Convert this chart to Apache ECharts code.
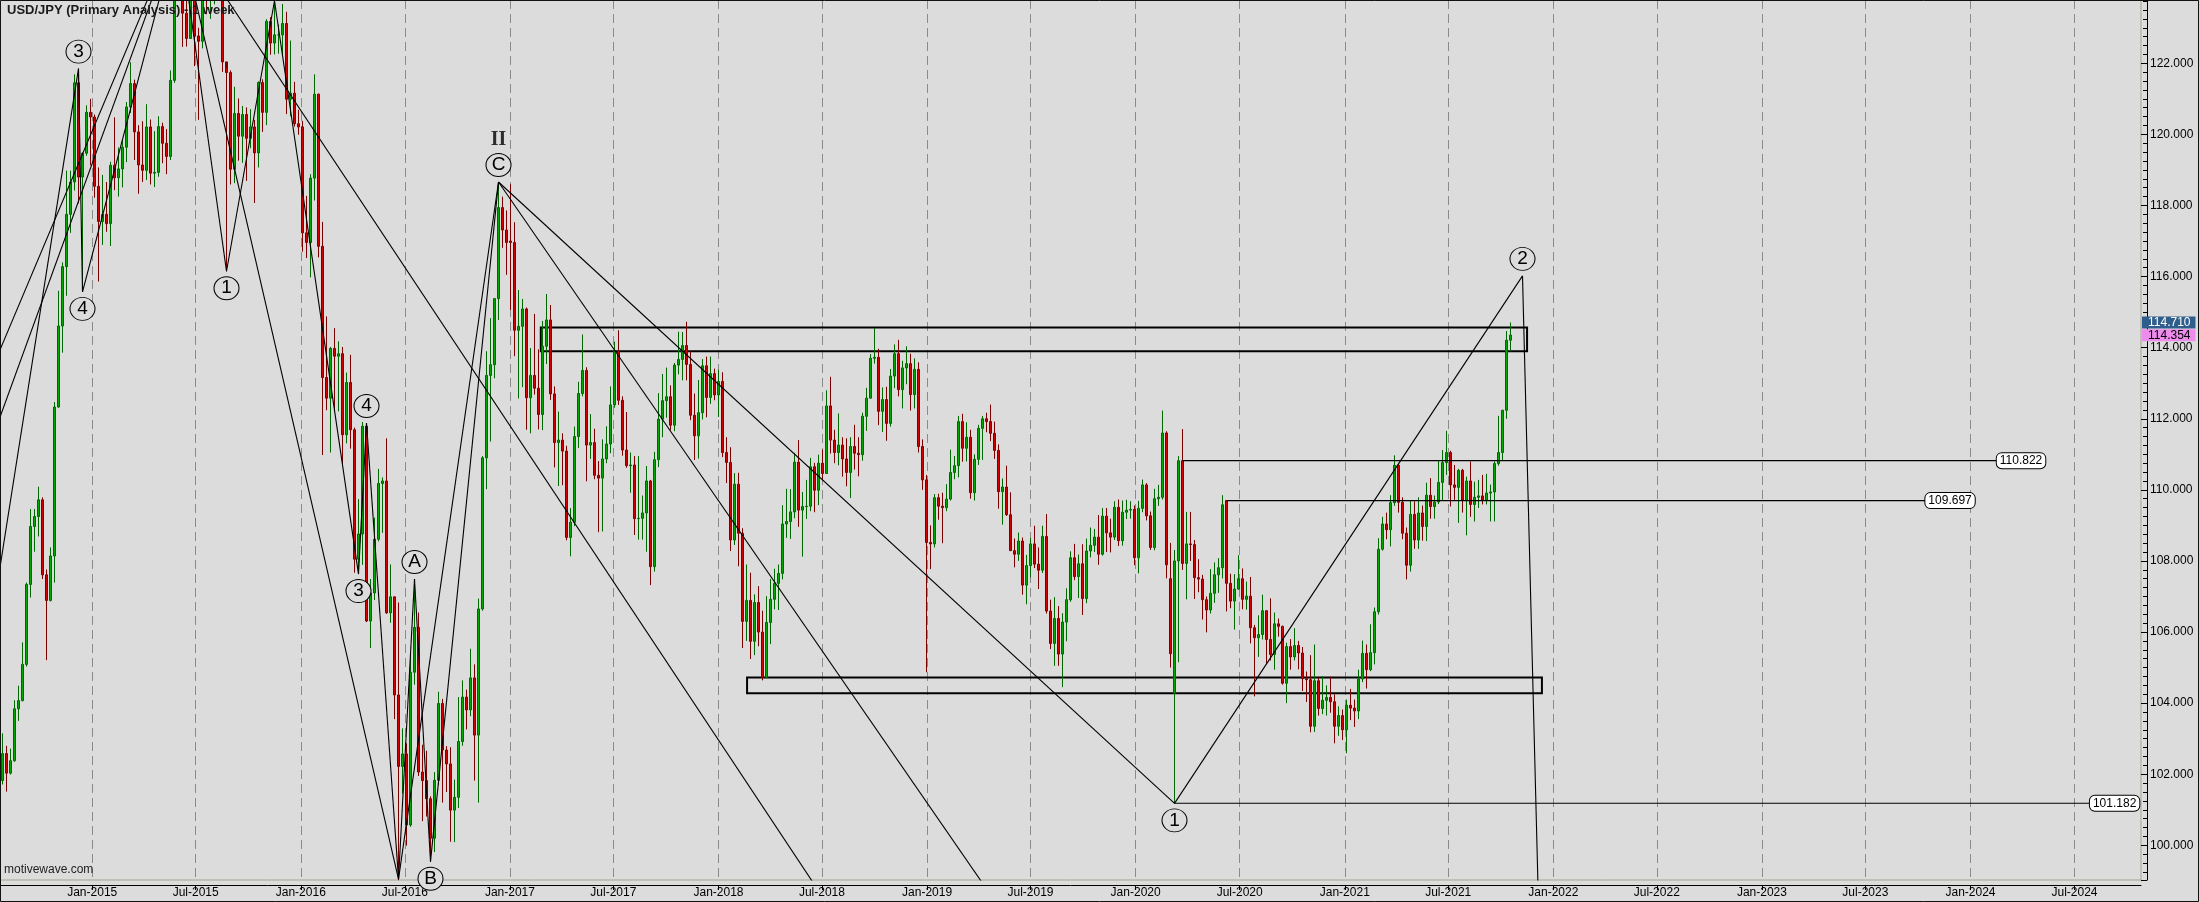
<!DOCTYPE html>
<html><head><meta charset="utf-8">
<script src="https://cdn.jsdelivr.net/npm/echarts/dist/echarts.min.js"></script>
<style>html,body{margin:0;padding:0;background:#dcdcdc}#chart{width:2199px;height:902px}</style>
</head><body><div id="chart"></div>
<script>
// ---------- weekly candles [open, close, low, high] ----------
const start2014 = '2014-07-28';
const weeks2014 = [
[101.82,102.58,101.71,103.15],[102.58,102.03,101.51,102.80],[102.03,102.38,101.99,102.72],[102.38,103.84,102.35,104.08],
[103.84,104.07,103.50,104.49],[104.07,105.09,104.05,105.71],[105.09,107.34,105.03,107.39],[107.34,108.97,106.97,109.46],
[108.97,109.25,108.26,109.46],[109.25,109.72,108.69,110.09],[109.72,107.61,107.49,109.79],[107.61,106.89,105.21,107.76],
[106.89,108.14,106.86,108.38],[108.14,112.33,107.39,112.47],[112.33,114.61,112.31,115.60],[114.61,116.28,113.86,116.40],
[116.28,117.75,115.46,118.98],[117.75,118.66,117.23,118.98],[118.66,121.45,118.42,121.69],[121.45,118.80,118.06,121.85],
[118.80,119.47,115.57,119.49],[119.47,120.62,119.40,120.82],[120.62,120.49,119.13,121.00]];
const start2015 = '2015-01-05';
const weeks2015 = [
[120.49,118.54,118.22,120.56],[118.54,117.55,115.86,119.07],[117.55,117.75,116.89,118.86],[117.75,117.49,117.26,118.66],
[117.49,119.13,116.86,119.23],[119.13,118.78,118.43,120.48],[118.78,119.03,118.25,119.63],[119.03,119.64,118.51,119.86],
[119.64,120.77,119.22,120.91],[120.77,121.43,120.60,122.03],[121.43,120.07,119.28,121.54],[120.07,119.14,118.33,120.26],
[119.14,118.99,118.66,120.37],[118.99,120.21,118.72,120.85],[120.21,118.91,118.59,120.42],[118.91,118.93,118.52,120.09],
[118.93,120.22,118.81,120.51],[120.22,119.75,119.19,120.33],[119.75,119.38,118.88,120.15],[119.38,121.52,119.28,121.80],
[121.52,124.12,121.45,124.46],[124.12,125.60,123.76,125.86],[125.60,123.41,122.46,125.60],[123.41,122.70,122.47,123.91],
[122.70,123.89,122.69,124.46],[123.89,122.77,121.92,123.95],[122.77,122.62,120.41,123.00],[122.62,124.03,122.42,124.22],
[124.03,123.80,123.38,124.58],[123.80,123.87,123.25,124.48],[123.87,124.22,123.66,125.07],[124.22,124.32,123.80,125.28],
[124.32,122.04,121.76,124.45],[122.04,121.74,116.15,121.87],[121.74,119.02,118.59,121.80],[119.02,120.59,118.63,121.34],
[120.59,119.95,119.26,121.01],[119.95,120.56,119.20,120.80],[120.56,119.89,118.69,120.76],[119.89,120.21,119.61,120.71],
[120.21,119.48,118.07,120.41],[119.48,121.46,119.07,121.49],[121.46,120.62,120.07,121.55],[120.62,123.18,120.26,123.24],
[123.18,122.57,122.24,123.30],[122.57,122.80,122.25,123.76],[122.80,122.80,122.27,123.09],[122.80,123.12,122.24,123.67],
[123.12,120.99,120.57,123.45],[120.99,121.16,120.51,122.64],[121.16,120.30,120.22,121.48],[120.30,120.21,119.99,120.69]];
const start2016 = '2016-01-04';
const weeks2016 = [
[120.21,117.23,116.70,120.38],[117.23,116.96,116.52,118.27],[116.96,118.77,115.98,118.88],[118.77,121.13,118.14,121.69],
[121.13,116.85,116.54,121.15],[116.85,113.16,110.98,117.54],[113.16,112.58,112.24,114.88],[112.58,113.98,111.05,114.02],
[113.98,113.76,112.21,114.55],[113.76,113.83,112.21,114.18],[113.83,111.55,110.67,114.02],[111.55,113.02,111.31,113.30],
[113.02,111.69,111.16,113.80],[111.69,108.05,107.67,111.75],[108.05,108.76,107.63,109.74],[108.76,111.79,107.89,111.91],
[111.79,106.31,106.28,111.88],[106.31,107.10,105.55,107.49],[107.10,108.61,106.90,109.22],[108.61,110.18,108.55,110.59],
[110.18,110.25,108.79,110.35],[110.25,106.54,106.51,111.45],[106.54,106.99,106.26,107.90],[106.99,104.23,103.55,107.00],
[104.23,102.22,99.02,106.83],[102.22,102.57,101.45,103.29],[102.57,100.57,99.99,102.87],[100.57,104.87,100.52,105.42],
[104.87,106.13,104.52,107.49],[106.13,102.06,101.95,106.55],[102.06,101.82,100.68,102.83],[101.82,101.31,100.81,102.66],
[101.31,100.20,99.54,101.38],[100.20,101.83,99.81,102.06],[101.83,103.99,101.70,104.32],[103.99,102.68,101.20,104.12],
[102.68,102.29,101.50,102.79],[102.29,100.99,100.10,102.76],[100.99,101.35,100.09,101.85],[101.35,102.92,101.05,104.17],
[102.92,104.17,102.80,104.64],[104.17,103.81,103.26,104.38],[103.81,104.71,103.63,105.53],[104.71,103.10,101.82,105.09],
[103.10,106.65,101.20,106.94],[106.65,110.90,106.60,110.95],[110.90,113.22,110.02,113.90],[113.22,113.52,111.36,114.83],
[113.52,115.38,113.14,115.40],[115.38,117.94,114.78,118.66],[117.94,117.31,116.81,118.25],[117.31,116.96,116.05,117.86]];
const start2017 = '2017-01-02';
const weeks2017 = [
[117.00,116.96,115.06,118.60],[116.96,114.49,113.76,117.53],[114.49,114.60,112.57,115.62],[114.60,115.09,112.89,115.37],
[115.09,112.59,111.69,115.13],[112.59,113.22,111.59,113.99],[113.22,112.86,112.68,114.95],[112.86,112.12,111.70,113.95],
[112.12,114.04,111.68,114.75],[114.04,114.78,113.54,115.51],[114.78,112.70,112.53,115.20],[112.70,111.33,110.63,112.91],
[111.33,111.40,110.11,112.20],[111.40,111.09,110.13,111.59],[111.09,108.66,108.58,111.24],[108.66,109.09,108.13,109.49],
[109.09,111.50,108.98,111.78],[111.50,112.71,111.18,113.04],[112.71,113.36,112.63,114.37],[113.36,111.26,110.24,113.45],
[111.26,111.33,110.87,112.13],[111.33,110.41,110.30,111.72],[110.41,110.33,108.81,110.81],[110.33,110.87,108.83,111.42],
[110.87,111.29,110.75,111.79],[111.29,112.39,111.03,112.91],[112.39,113.90,112.31,114.17],[113.90,112.52,112.39,114.49],
[112.52,111.12,110.96,112.63],[111.12,110.68,110.62,112.19],[110.68,110.70,109.92,111.05],[110.70,109.19,108.73,110.95],
[109.19,109.20,108.60,110.95],[109.20,109.35,108.60,109.84],[109.35,110.25,108.26,110.67],[110.25,107.84,107.32,110.28],
[107.84,110.85,107.70,111.07],[110.85,111.99,110.64,112.72],[111.99,112.51,111.48,113.26],[112.51,112.62,112.03,113.44],
[112.62,111.82,111.68,112.94],[111.82,113.51,111.65,113.57],[113.51,113.67,113.25,114.45],[113.67,114.06,113.08,114.44],
[114.06,113.53,113.08,114.73],[113.53,112.10,111.96,113.91],[112.10,111.52,110.84,112.71],[111.52,112.17,110.88,113.09],
[112.17,113.49,111.98,113.68],[113.49,112.60,112.04,113.75],[112.60,113.27,112.42,113.75],[113.27,112.67,112.52,113.41]];
const start2018 = '2018-01-01';
const weeks2018 = [
[112.67,113.05,112.05,113.38],[113.05,111.05,110.92,113.31],[111.05,110.77,110.19,111.48],[110.77,108.59,108.28,111.20],
[108.59,110.16,108.45,110.47],[110.16,108.78,107.85,110.48],[108.78,106.30,105.55,108.92],[106.30,106.89,105.75,107.90],
[106.89,105.74,105.24,107.67],[105.74,106.83,105.35,107.06],[106.83,106.00,105.60,107.29],[106.00,104.72,104.64,106.60],
[104.72,106.27,104.70,107.01],[106.27,106.92,105.66,107.49],[106.92,107.37,106.64,107.78],[107.37,107.65,106.62,107.90],
[107.65,109.04,107.48,109.57],[109.04,109.11,108.65,110.03],[109.11,109.38,108.62,110.02],[109.38,110.78,109.20,111.04],
[110.78,109.43,108.96,111.40],[109.43,109.53,108.12,109.94],[109.53,109.54,109.18,110.28],[109.54,110.65,109.40,110.90],
[110.65,109.99,109.37,110.76],[109.99,110.75,109.57,110.99],[110.75,110.46,110.27,111.13],[110.46,112.36,110.45,112.80],
[112.36,111.40,111.02,113.18],[111.40,111.05,110.75,111.69],[111.05,111.26,110.69,112.15],[111.26,110.87,110.37,111.48],
[110.87,110.49,110.10,111.45],[110.49,111.22,109.77,111.48],[111.22,111.03,110.57,111.83],[111.03,110.99,110.38,111.48],
[110.99,112.07,110.82,112.17],[112.07,112.58,111.66,112.87],[112.58,113.70,112.57,113.82],[113.70,113.73,113.55,114.55],
[113.73,112.21,111.82,113.97],[112.21,112.54,111.63,112.88],[112.54,111.87,111.38,112.90],[111.87,113.20,111.78,113.40],
[113.20,113.83,112.86,114.09],[113.83,112.82,112.63,114.22],[112.82,113.43,112.29,113.63],[113.43,113.55,112.97,114.04],
[113.55,112.68,112.23,113.83],[112.68,113.39,112.29,113.70],[113.39,111.22,111.05,113.59],[111.22,110.28,110.00,111.42]];
const start2019 = '2018-12-31';
const weeks2019 = [
[110.28,108.52,104.87,110.42],[108.52,108.48,107.77,109.00],[108.48,109.78,108.38,109.88],[109.78,109.54,109.16,109.89],
[109.54,109.50,108.50,109.92],[109.50,109.74,109.40,110.16],[109.74,110.49,109.70,111.13],[110.49,110.68,110.30,110.95],
[110.68,111.92,110.35,112.08],[111.92,111.17,110.79,112.14],[111.17,111.48,110.80,111.90],[111.48,109.92,109.75,111.69],
[109.92,110.86,109.70,111.00],[110.86,111.73,110.70,111.83],[111.73,112.00,110.84,112.08],[112.00,111.92,111.62,112.17],
[111.92,111.59,111.37,112.40],[111.59,111.11,110.87,111.92],[111.11,109.95,109.47,111.28],[109.95,110.08,109.02,110.32],
[110.08,109.30,109.27,110.68],[109.30,108.29,108.28,109.93],[108.29,108.19,107.82,108.63],[108.19,108.56,108.00,108.80],
[108.56,107.32,107.05,108.66],[107.32,107.87,106.78,108.17],[107.87,108.48,107.53,108.65],[108.48,107.91,107.80,108.99],
[107.91,107.74,107.21,108.38],[107.74,108.69,107.66,108.99],[108.69,106.59,106.52,109.32],[106.59,105.68,105.52,106.91],
[105.68,106.38,105.05,106.98],[106.38,105.38,105.05,106.73],[105.38,106.28,104.45,106.53],[106.28,106.91,105.74,107.23],
[106.91,108.09,106.85,108.27],[108.09,107.56,107.46,108.48],[107.56,107.92,106.96,108.18],[107.92,106.94,106.48,108.47],
[106.94,108.28,106.81,108.63],[108.28,108.44,108.10,108.94],[108.44,108.67,108.25,108.90],[108.67,108.19,107.89,109.29],
[108.19,109.26,108.15,109.49],[109.26,108.79,108.25,109.49],[108.79,108.67,108.24,109.19],[108.67,109.51,108.59,109.68],
[109.51,108.57,108.42,109.73],[108.57,109.37,108.43,109.70],[109.37,109.43,109.18,109.72],[109.43,109.45,109.19,109.68],
[109.45,108.09,107.88,109.56]];
const start2020 = '2020-01-06';
const weeks2020 = [
[108.09,109.48,107.65,109.69],[109.48,110.14,109.37,110.29],[110.14,109.27,109.14,110.19],[109.27,108.38,108.31,109.39],
[108.38,109.75,108.30,110.03],[109.75,109.79,109.55,110.14],[109.79,111.60,109.73,112.23],[111.60,107.89,107.51,111.65],
[107.50,105.39,105.00,108.51],[104.28,108.00,101.18,108.31],[108.00,110.82,105.15,110.95],[110.82,107.93,107.75,111.71],
[107.93,108.48,106.92,109.38],[108.48,108.46,108.00,109.38],[108.46,107.53,106.93,108.59],[107.53,107.49,107.12,108.05],
[107.49,106.91,106.35,107.61],[106.91,106.62,105.99,107.00],[106.62,107.09,106.52,107.77],[107.09,107.61,106.82,107.96],
[107.61,107.81,107.10,108.08],[107.81,109.58,107.51,109.85],[109.70,107.37,106.58,109.70],[107.37,106.87,106.67,107.64],
[106.87,107.21,106.07,107.63],[107.21,107.50,107.19,108.16],[107.50,106.92,106.64,107.79],[106.92,107.01,106.63,107.42],
[107.01,106.12,105.68,107.55],[106.12,105.84,104.19,106.20],[105.84,105.93,105.30,106.47],[105.93,106.60,105.79,107.05],
[106.60,105.79,105.10,106.61],[105.79,105.37,105.20,106.95],[105.37,106.23,104.94,106.55],[106.23,106.16,105.87,106.38],
[106.16,104.56,104.52,106.18],[104.56,105.59,104.00,105.70],[105.59,105.30,104.94,105.80],[105.30,105.62,105.20,106.11],
[105.62,105.41,104.95,105.75],[105.41,104.69,104.34,105.58],[104.69,104.66,104.03,104.89],[104.66,103.35,103.18,105.35],
[103.35,104.63,103.19,105.65],[104.63,103.85,103.65,104.72],[103.85,104.08,103.69,104.76],[104.08,104.16,103.65,104.50],
[104.16,104.04,103.73,104.75],[104.04,103.35,102.87,104.25],[103.35,103.65,103.08,103.91],[103.65,103.25,102.96,103.82]];
const start2021 = '2021-01-04';
const weeks2021 = [
[103.25,103.94,102.59,104.10],[103.94,103.86,103.52,104.40],[103.86,103.78,103.33,104.10],[103.78,104.68,103.55,104.94],
[104.68,105.40,104.59,105.76],[105.40,104.94,104.41,105.65],[104.94,105.42,104.90,106.22],[105.42,106.57,105.09,106.69],
[106.57,108.33,106.49,108.64],[108.33,109.04,108.29,109.24],[109.04,108.88,108.61,109.36],[108.88,109.64,108.41,109.85],
[109.64,110.69,109.55,110.97],[110.69,109.65,109.36,110.72],[109.65,108.78,108.61,109.79],[108.78,107.88,107.48,108.94],
[107.88,109.31,107.70,109.69],[109.31,108.59,108.34,109.68],[108.59,109.35,108.34,109.79],[109.35,108.97,108.57,109.56],
[108.97,109.85,108.56,110.20],[109.85,109.53,109.19,110.33],[109.53,109.66,109.19,109.84],[109.66,110.21,109.60,110.82],
[110.21,110.77,109.71,111.12],[110.77,111.05,110.42,111.66],[111.05,110.14,109.53,111.10],[110.14,110.07,109.72,110.70],
[110.07,110.55,109.07,110.59],[110.55,109.71,109.36,110.59],[109.71,110.25,108.72,110.37],[110.25,109.59,109.24,110.80],
[109.59,109.79,109.11,110.23],[109.79,109.83,109.49,110.28],[109.83,109.71,109.59,110.42],[109.71,109.91,109.59,110.45],
[109.91,109.94,109.11,110.15],[109.94,110.74,109.11,110.80],[110.74,111.05,110.68,112.08],[111.05,112.24,110.82,112.25],
[112.24,114.21,112.00,114.47],[114.21,114.354,113.90,114.710]];

// ---------- axis ticks / ranges ----------
const xTickDates = ['2015-01-01','2015-07-01','2016-01-01','2016-07-01','2017-01-01','2017-07-01','2018-01-01','2018-07-01',
  '2019-01-01','2019-07-01','2020-01-01','2020-07-01','2021-01-01','2021-07-01','2022-01-01','2022-07-01',
  '2023-01-01','2023-07-01','2024-01-01','2024-07-01'];
const monthNames = ['Jan','Feb','Mar','Apr','May','Jun','Jul','Aug','Sep','Oct','Nov','Dec'];
const xRange = ['2014-07-23T15:00:00Z', '2024-10-25T09:00:00Z'];
const yRange = [99.024, 123.781];

// ---------- Elliott wave annotation points [id, date, price] ----------
const wavePoints = [
  ['a3','2014-12-08',121.85],['a4','2014-12-15',115.57],['a5','2015-06-01',125.86],
  ['b1','2015-08-24',116.15],['b2','2015-11-16',123.76],['b3','2016-04-11',107.63],
  ['b4','2016-04-25',111.88],['b5','2016-06-20',99.05],['cA','2016-07-18',107.49],
  ['cB','2016-08-15',99.54],['cC','2016-12-12',118.66],['d1','2020-03-09',101.18],
  ['d2','2021-11-08',116.02],
  ['xA','2014-05-14',111.24],['xB','2014-05-14',108.92],['xC','2014-05-14',100.61],
  ['t1','2018-09-02',97.05],['t2','2019-06-28',97.05],['t3','2021-12-08',97.05]
];
const waveLinks = [['xA','a5'],['xB','a5'],['xC','a3'],['a3','a4'],['a4','a5'],['a5','b1'],['b1','b2'],['b2','b3'],
  ['b3','b4'],['b4','b5'],['a5','b5'],['a5','t1'],['b5','cA'],['cA','cB'],['cB','cC'],['b5','cC'],['cC','d1'],
  ['cC','t2'],['d1','d2'],['d2','t3']];
// [point id, label, pivot kind]
const waveLabels = [['a3','3','high'],['a4','4','low'],['b1','1','low'],['b3','3','low'],['b4','4','high'],
  ['cA','A','high'],['cB','B','low'],['cC','C','high'],['d1','1','low'],['d2','2','high']];
const degreeLabels = [['cC','II']];

// ---------- boxes [startDate, endDate, top, bottom] ----------
const zones = [['2017-02-24','2021-11-16',114.57,113.90],['2018-02-20','2021-12-12',104.72,104.28]];
// ---------- price levels [startDate, endDate, price] ----------
const levels = [['2020-03-23','2024-02-16',110.822],['2020-06-08','2023-10-14',109.697],['2020-03-09','2024-07-28',101.182]];

// ---------- build ----------
const FONT = '"Liberation Sans", Arial, Helvetica, sans-serif';
const DAY = 86400000;
const ts = s => Date.parse(s.length === 10 ? s + 'T00:00:00Z' : s);
const blocks = [[start2014,weeks2014],[start2015,weeks2015],[start2016,weeks2016],[start2017,weeks2017],
  [start2018,weeks2018],[start2019,weeks2019],[start2020,weeks2020],[start2021,weeks2021]];
const candles = [];
blocks.forEach(([s, rows]) => rows.forEach((r, i) => candles.push([ts(s) + i * 7 * DAY, r[0], r[1], r[2], r[3]])));
const lastBar = weeks2021[weeks2021.length - 1];
const pt = {};
wavePoints.forEach(([id, d, p]) => { pt[id] = [ts(d), p]; });
const xTicks = xTickDates.map(ts);
const fmtDate = v => { const d = new Date(v); return monthNames[d.getUTCMonth()] + '-' + d.getUTCFullYear(); };

const series = [];
series.push({
  type: 'candlestick', name: 'USD/JPY', data: candles, encode: {x: 0, y: [1, 2, 3, 4]},
  barWidth: 2, silent: true,
  itemStyle: {color: '#00a800', color0: '#d40000', borderColor: '#006800', borderColor0: '#7c0000', borderWidth: 1},
  markArea: {
    silent: true,
    itemStyle: {color: 'rgba(0,0,0,0)', borderColor: '#000', borderWidth: 2},
    data: zones.map(([s, e, t, b]) => [{coord: [ts(s), t]}, {coord: [ts(e), b]}])
  }
});
// carrier series for the last-price tags on the right axis
series.push({
  type: 'line', data: [], silent: true,
  markLine: {
    silent: true, symbol: 'none', animation: false,
    lineStyle: {color: 'rgba(0,0,0,0)', width: 1, type: 'solid'},
    data: [
      {yAxis: lastBar[3], label: {show: true, position: 'end', distance: 1, formatter: lastBar[3].toFixed(3),
        backgroundColor: '#2f5d8c', color: '#fff', fontSize: 12, fontFamily: FONT, lineHeight: 12, padding: [0, 5, 0, 6]}},
      {yAxis: lastBar[1], label: {show: true, position: 'end', distance: 1, formatter: lastBar[1].toFixed(3),
        backgroundColor: '#ee8cee', color: '#000', fontSize: 12, fontFamily: FONT, lineHeight: 12, padding: [0, 5, 0, 6]}}
    ]
  }
});
waveLinks.forEach(([a, b]) => series.push({
  type: 'line', data: [pt[a], pt[b]], symbol: 'none', silent: true, clip: true,
  lineStyle: {color: '#000', width: 1.1}, z: 3
}));
levels.forEach(([s, e, p]) => series.push({
  type: 'line', data: [[ts(s), p], [ts(e), p]], symbol: 'none', silent: true, z: 3,
  lineStyle: {color: '#000', width: 1.1},
  endLabel: {show: true, formatter: p.toFixed(3), distance: 0, backgroundColor: '#fff', borderColor: '#000',
    borderWidth: 1, borderRadius: 5, padding: [2, 3, 1, 3], fontSize: 12, color: '#000', fontFamily: FONT}
}));
series.push({
  type: 'scatter', z: 5, silent: true, clip: false,
  symbol: 'circle', symbolSize: [25, 23],
  itemStyle: {color: '#dcdcdc', borderColor: '#000', borderWidth: 1, opacity: 1},
  label: {show: true, position: 'inside', formatter: '{b}', fontSize: 19, color: '#000', fontFamily: FONT},
  data: waveLabels.map(([id, txt, kind]) => ({name: txt, value: pt[id], symbolOffset: [0, kind === 'high' ? -17 : 17]}))
});
series.push({
  type: 'scatter', z: 5, silent: true, clip: false,
  symbol: 'rect', symbolSize: 1,
  itemStyle: {color: 'rgba(0,0,0,0)'},
  label: {show: true, position: 'inside', formatter: '{b}', fontSize: 20, fontWeight: 'bold', color: '#000',
    fontFamily: '"Liberation Serif", "Times New Roman", serif'},
  data: degreeLabels.map(([id, txt]) => ({name: txt, value: pt[id], symbolOffset: [0, -42]}))
});

const chart = echarts.init(document.getElementById('chart'), null, {renderer: 'canvas'});
chart.setOption({
  animation: false,
  backgroundColor: '#dcdcdc',
  title: {text: 'USD/JPY (Primary Analysis) - 1 week', left: 7, top: 4, padding: 0,
    textStyle: {fontSize: 13, fontWeight: 'bold', color: '#1a1a1a', fontFamily: FONT}},
  grid: {left: 0, right: 58, top: 0, bottom: 22, show: true, backgroundColor: '#dcdcdc',
    borderColor: '#a3a394', borderWidth: 1, containLabel: false, outerBoundsMode: 'none'},
  xAxis: {
    type: 'value', min: ts(xRange[0]), max: ts(xRange[1]), offset: 5,
    axisLine: {show: true, onZero: false, lineStyle: {color: '#000', width: 1}},
    axisTick: {show: true, length: 5, customValues: xTicks, lineStyle: {color: '#000'}},
    axisLabel: {show: true, customValues: xTicks, formatter: fmtDate, margin: 2, fontSize: 12, color: '#000', fontFamily: FONT},
    splitLine: {show: true, lineStyle: {color: '#8a8a8a', width: 1, type: [9, 5]}}
  },
  yAxis: {
    type: 'value', position: 'right', min: yRange[0], max: yRange[1], splitNumber: 12, offset: 6, scale: true,
    axisLine: {show: true, lineStyle: {color: '#000', width: 1}},
    axisTick: {show: true, inside: true, length: 6, lineStyle: {color: '#000'}},
    minorTick: {show: true, splitNumber: 8, length: 4, lineStyle: {color: '#000'}},
    axisLabel: {show: true, margin: 3, fontSize: 12, color: '#000', fontFamily: FONT,
      showMinLabel: false, showMaxLabel: false, formatter: v => v.toFixed(3)},
    splitLine: {show: false}
  },
  graphic: [
    {type: 'text', left: 4, top: 864, silent: true, z: 50,
      style: {text: 'motivewave.com', fill: '#222', fontSize: 12, fontFamily: FONT}},
    {type: 'rect', silent: true, z: 100, shape: {x: 0.5, y: 0.5, width: 2198, height: 901},
      style: {fill: 'none', stroke: '#111', lineWidth: 1}}
  ],
  series: series
});
</script></body></html>
